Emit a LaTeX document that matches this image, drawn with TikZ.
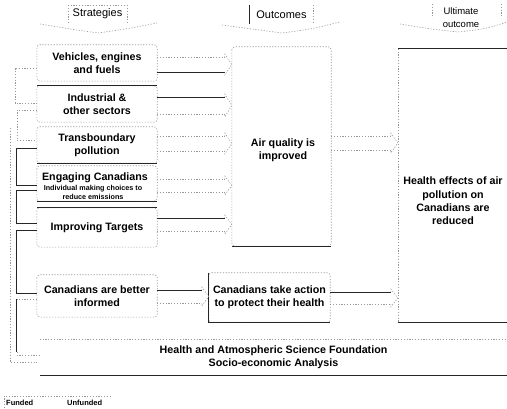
\documentclass[tikz,border=0pt]{standalone}
\usepackage{fontspec}
\setmainfont{Liberation Sans}
\usetikzlibrary{calc}

% hollow block arrow between two nodes: from, to, y of upper line, y of lower line, styles of the two lines
\newcommand{\blkarrow}[6]{%
  \pgfmathsetmacro{\ymid}{(#3+#4)/2}%
  \pgfmathsetmacro{\yup}{#3-3}%
  \pgfmathsetmacro{\ydn}{#4+3}%
  \draw[#5] (#1.east |- 0,#3) -- ($(#2.west |- 0,#3)+(-7,0)$);
  \draw[#6] (#1.east |- 0,#4) -- ($(#2.west |- 0,#4)+(-7,0)$);
  \draw[faint] ($(#2.west |- 0,#3)+(-7,0)$) -- ($(#2.west |- 0,\yup)+(-7,0)$)
     -- (#2.west |- 0,\ymid) -- ($(#2.west |- 0,\ydn)+(-7,0)$) -- ($(#2.west |- 0,#4)+(-7,0)$);
}

\begin{document}
\begin{tikzpicture}[x=1pt,y=-1pt,
  faint/.style={draw=black!40, line width=0.6pt, dash pattern=on 1.2pt off 1.6pt},
  dark/.style={draw=black!85, line width=0.9pt},
  box/.style={inner sep=0pt, font=\bfseries\fontsize{10.7}{13}\selectfont, align=center},
  small/.style={inner sep=0pt, font=\bfseries\fontsize{7.2}{8}\selectfont},
  hdr/.style={inner sep=0pt, font=\fontsize{11}{13}\selectfont, align=center},
  legend/.style={inner sep=0pt, anchor=west, font=\bfseries\fontsize{7.5}{8}\selectfont},
]
\useasboundingbox (0,0) rectangle (507,409);

% ---- column headers ----
\node[hdr, minimum width=59pt, minimum height=17pt] (hstr) at (97.5,14) {Strategies};
\draw[faint] (hstr.north west) -- (hstr.south west);
\draw[faint] (hstr.north east) -- (hstr.south east);
\draw[faint] (hstr.north west) -- (hstr.north east);
\draw[faint] (40,24) .. controls (70,29) .. (98,33) .. controls (126,29) .. (157,23);

\node[hdr, minimum width=63pt, minimum height=19pt] (hout) at (281.5,14.5) {Outcomes};
\draw[dark, line width=0.7pt] (hout.north west) -- (hout.south west);
\draw[faint] (hout.north east) -- (hout.south east);
\draw[faint] (222,25) .. controls (252,29) .. (282,33) .. controls (312,29) .. (340,22);

\node[hdr, font=\fontsize{9.5}{13.5}\selectfont] (hult) at (461,17.5) {Ultimate\\outcome};
\draw[faint] (432,4) -- (432,18);
\draw[faint] (501,4) -- (501,18);
\draw[faint] (400,24) .. controls (430,29) .. (458,32) .. controls (485,29) .. (507,22);

% ---- strategy boxes ----
\node[box, minimum width=120pt, minimum height=36pt] (veh) at (97,63) {Vehicles, engines\\and fuels};
\node[box, minimum width=120pt, minimum height=36pt] (ind) at (97,104) {Industrial \&\\other sectors};
\node[box, minimum width=120pt, minimum height=36pt] (trans) at (97,145) {Transboundary\\pollution};
\node[minimum width=120pt, minimum height=35pt, inner sep=0pt] (eng) at (97,183.5) {};
\node[box] (engt) at (95,178) {Engaging Canadians};
\node[small] (engs1) at (93,189) {Individual making choices to};
\node[small] (engs2) at (93,196.5) {reduce emissions};
\node[box, minimum width=120pt, minimum height=39pt] (imp) at (97,227.5) {Improving Targets};
\node[box, minimum width=120pt, minimum height=42pt] (better) at (97,296) {Canadians are better\\informed};

\foreach \b in {veh,ind,trans,eng,imp,better}
  \draw[faint, rounded corners=3pt] (\b.north west) rectangle (\b.south east);
\draw[dark, line width=0.7pt] (ind.north west) -- (ind.north east);
\draw[dark, line width=0.7pt] (trans.south west) -- (trans.south east);
\draw[dark, line width=0.7pt] (eng.south west) -- (eng.south east);
\draw[dark, line width=0.6pt] (imp.north west) -- (imp.north east);

% ---- outcome boxes ----
\node[minimum width=99pt, minimum height=199pt, inner sep=0pt] (air) at (281.5,146.5) {};
\node[box] (airt) at (283,150) {Air quality is\\improved};
\draw[faint, rounded corners=3pt] (air.north west) rectangle (air.south east);
\draw[dark, line width=0.7pt] (air.south west) -- (air.south east);

\node[box, minimum width=121pt, minimum height=49pt] (act) at (269.5,297.5) {Canadians take action\\to protect their health};
\draw[faint, rounded corners=3pt] (act.north west) rectangle (act.south east);
\draw[dark, line width=0.7pt] (act.north west) -- (act.south west) -- (act.south east);

% ---- ultimate outcome ----
\node[minimum width=109pt, minimum height=273pt, inner sep=0pt] (ult) at (452.5,185.5) {};
\draw[faint] (ult.north west) -- (ult.south west);
\draw[dark] (ult.north west) -- (ult.north east);
\draw[dark] (ult.south west) -- (ult.south east);
\node[box, font=\bfseries\fontsize{10.7}{13.3}\selectfont] (ulttxt) at (453,201) {Health effects of air\\pollution on\\Canadians are\\reduced};

% ---- foundation band ----
\node[box, minimum width=467pt, minimum height=35pt] (found) at (273.5,357.5)
  {Health and Atmospheric Science Foundation\\Socio-economic Analysis};
\draw[faint] (found.north west) -- (found.north east);
\draw[dark] (found.south west) -- (found.south east);

% ---- block arrows ----
\blkarrow{veh}{air}{57}{72}{faint}{dark}
\blkarrow{ind}{air}{97}{114}{dark}{faint}
\blkarrow{trans}{air}{136}{151}{faint}{faint}
\blkarrow{eng}{air}{179}{192}{faint}{faint}
\blkarrow{imp}{air}{218}{231}{dark}{faint}
\blkarrow{better}{act}{290}{303}{dark}{faint}
\blkarrow{air}{ult}{136}{150}{faint}{faint}
\blkarrow{act}{ult}{292}{304}{dark}{faint}

% ---- links between strategies on the left ----
\draw[faint] (veh.west |- 0,68) -- ++(-22,0) |- (ind.west |- 0,103);
\draw[faint] (ind.west |- 0,110) -- ++(-20,0) |- (trans.west |- 0,140);
\draw[dark, line width=0.7pt] (trans.west |- 0,148) -- ++(-20,0) |- (eng.west |- 0,185);
\draw[dark, line width=0.7pt] (eng.west |- 0,190) -- ++(-20,0) |- (imp.west |- 0,223);
\draw[dark, line width=0.7pt] (imp.west |- 0,230) -- ++(-20,0) |- (better.west |- 0,293);
\draw[faint] (better.west |- 0,299) -- ++(-20,0);
\draw[dark, line width=0.7pt] ($(better.west |- 0,299)+(-20,0)$) -- ($(better.west |- 0,352)+(-20,0)$);
\draw[faint] ($(better.west |- 0,352)+(-20,0)$) |- (found.west |- 0,355);
\draw[faint] (10,128) -- (10,362) -- (37,362);

% ---- legend ----
\node[legend] (fund) at (6,403) {Funded};
\node[legend] (unfund) at (67,403) {Unfunded};
\draw[faint] (4,408) -- (4,396) -- (110,396);

\end{tikzpicture}
\end{document}
